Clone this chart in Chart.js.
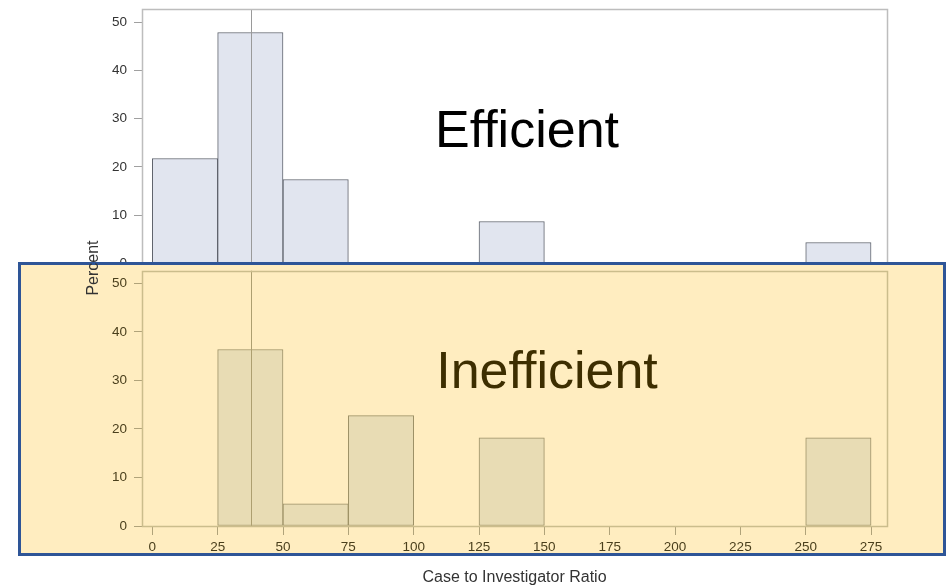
<!DOCTYPE html>
<html>
<head>
<meta charset="utf-8">
<script src="https://cdn.jsdelivr.net/npm/chart.js@4.4.1/dist/chart.umd.min.js"></script>
<style>
  html, body { margin: 0; padding: 0; background: #fff; }
  #wrap { position: relative; width: 948px; height: 587px; overflow: hidden; }
  canvas { position: absolute; left: 0; top: 0; }
  #topChart { z-index: 1; }
  #yellow {
    position: absolute; left: 18px; top: 262px; width: 928px; height: 294px;
    box-sizing: border-box; background: #ffedc0; border: 3px solid #2e5597; z-index: 2;
  }
  #bottomChart { z-index: 3; }
</style>
</head>
<body>
<div id="wrap">
  <canvas id="topChart" width="948" height="587"></canvas>
  <div id="yellow"></div>
  <canvas id="bottomChart" width="948" height="587"></canvas>
</div>
<script>
// histogram bins (left edges), width 25
const binStarts = [0, 25, 50, 75, 100, 125, 150, 175, 200, 225, 250];
const binWidth = 25;
const efficientPct = [21.74, 47.83, 17.39, null, null, 8.70, null, null, null, null, 4.35];
const inefficientPct = [null, 36.36, 4.55, 22.73, null, 18.18, null, null, null, null, 18.18];
const xTicks = [0, 25, 50, 75, 100, 125, 150, 175, 200, 225, 250, 275];
const yTicks = [0, 10, 20, 30, 40, 50];
const refLine = 37.9;

const FONT = "'Liberation Sans', Arial, sans-serif";

// frame, reference line and the big panel label
const panelDecor = {
  id: 'panelDecor',
  afterDatasetsDraw(chart, args, opts) {
    const { ctx, chartArea: a, scales: { x } } = chart;
    ctx.save();
    const px = Math.round(x.getPixelForValue(refLine)) + 0.5;
    ctx.strokeStyle = opts.refColor;
    ctx.lineWidth = 1;
    ctx.beginPath();
    ctx.moveTo(px, a.top);
    ctx.lineTo(px, a.bottom);
    ctx.stroke();

    ctx.strokeStyle = opts.frameColor;
    ctx.lineWidth = 1.5;
    ctx.strokeRect(Math.round(a.left) + 0.5, Math.round(a.top) + 0.5,
                   Math.round(a.right - a.left), Math.round(a.bottom - a.top));

    ctx.font = '52px ' + FONT;
    ctx.fillStyle = opts.labelColor;
    ctx.textAlign = 'center';
    ctx.textBaseline = 'alphabetic';
    ctx.fillText(opts.label, opts.labelX, opts.labelY);

    if (opts.yTitle) {
      ctx.translate(94, 268);
      ctx.rotate(-Math.PI / 2);
      ctx.font = '16px ' + FONT;
      ctx.fillStyle = '#333';
      ctx.textBaseline = 'middle';
      ctx.fillText(opts.yTitle, 0, 0);
    }
    ctx.restore();
  }
};

function makeChart(id, values, s) {
  return new Chart(document.getElementById(id).getContext('2d'), {
    type: 'bar',
    data: {
      datasets: [{
        data: binStarts.map((b, i) => ({ x: b + binWidth / 2, y: values[i] })),
        backgroundColor: s.barFill,
        borderColor: s.barLine,
        borderWidth: 1,
        borderSkipped: false,
        barPercentage: 1,
        categoryPercentage: 1
      }]
    },
    options: {
      responsive: false,
      animation: false,
      layout: { padding: s.padding },
      plugins: {
        legend: { display: false },
        tooltip: { enabled: false },
        panelDecor: s.decor
      },
      scales: {
        x: {
          type: 'linear',
          display: s.showX,
          min: -3.95,
          max: 281.1,
          offset: false,
          afterBuildTicks: (sc) => { sc.ticks = xTicks.map(v => ({ value: v })); },
          afterFit: (sc) => { sc.height = s.showX ? 61 : 0; sc.paddingLeft = 0; sc.paddingRight = 0; },
          ticks: { font: { family: FONT, size: 13.5 }, color: s.text, padding: 4, maxRotation: 0 },
          grid: { offset: false, drawOnChartArea: false, tickLength: 9, color: s.tick },
          border: { display: false },
          title: {
            display: true,
            text: 'Case to Investigator Ratio',
            font: { family: FONT, size: 16 },
            color: '#333',
            padding: 0
          }
        },
        y: {
          min: 0,
          max: s.yMax,
          afterBuildTicks: (sc) => { sc.ticks = yTicks.map(v => ({ value: v })); },
          afterFit: (sc) => { sc.width = 142; sc.paddingTop = 0; sc.paddingBottom = 0; },
          ticks: { font: { family: FONT, size: 13.5 }, color: s.text, padding: 7 },
          grid: { drawOnChartArea: false, tickLength: 8, color: s.tick },
          border: { display: false }
        }
      }
    },
    plugins: [panelDecor]
  });
}

makeChart('topChart', efficientPct, {
  barFill: '#e1e5ef', barLine: '#5f636c', text: '#333', tick: '#a0a0a0',
  yMax: 52.7, showX: false,
  padding: { left: 0, right: 61, top: 9, bottom: 323.5 },
  decor: { refColor: '#9a9a9a', frameColor: '#bdbdbd', label: 'Efficient', labelColor: '#000',
           labelX: 527, labelY: 147 }
});

makeChart('bottomChart', inefficientPct, {
  barFill: '#e8dcb4', barLine: '#9d9166', text: '#4a3f1c', tick: '#b0a37a',
  yMax: 52.6, showX: true,
  padding: { left: 0, right: 61, top: 270.7, bottom: 0 },
  decor: { refColor: '#ad9f70', frameColor: '#cbbd8c', label: 'Inefficient', labelColor: '#3d2e00',
           labelX: 547, labelY: 388, yTitle: 'Percent' }
});
</script>
</body>
</html>
